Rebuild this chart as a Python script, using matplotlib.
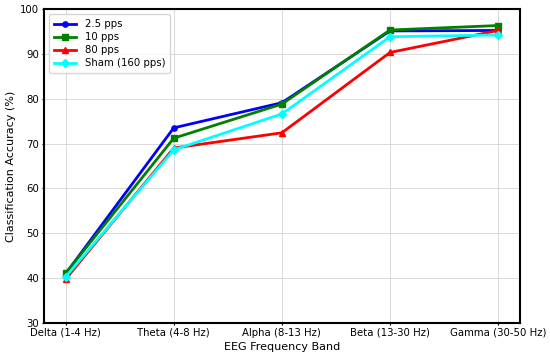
import matplotlib
matplotlib.use("Agg")
import matplotlib.pyplot as plt

bands = ["Delta (1-4 Hz)", "Theta (4-8 Hz)", "Alpha (8-13 Hz)",
         "Beta (13-30 Hz)", "Gamma (30-50 Hz)"]
acc_2_5 = [41.0, 73.5, 79.1, 95.1, 95.2]
acc_10 = [41.1, 71.2, 78.8, 95.3, 96.3]
acc_80 = [39.8, 69.0, 72.4, 90.3, 95.2]
acc_sham = [40.3, 68.6, 76.6, 93.8, 94.2]

series = [
    ("2.5 pps", acc_2_5, "blue", "o"),
    ("10 pps", acc_10, "green", "s"),
    ("80 pps", acc_80, "red", "^"),
    ("Sham (160 pps)", acc_sham, "cyan", "D"),
]

fig, ax = plt.subplots(figsize=(5.5, 3.57), dpi=100)
x = list(range(len(bands)))
for label, vals, color, marker in series:
    ax.plot(x, vals, color=color, marker=marker, markersize=3.8,
            linewidth=2.0, label=label)

ax.set_xticks(x)
ax.set_xticklabels(bands, fontsize=7.3)
ax.set_xlim(-0.2, 4.2)
ax.set_ylim(30, 100)
ax.tick_params(axis="y", labelsize=7.3)
ax.tick_params(length=1.5, pad=2)
ax.set_xlabel("EEG Frequency Band", fontsize=8, labelpad=3)
ax.set_ylabel("Classification Accuracy (%)", fontsize=8, labelpad=3)
ax.grid(True, color="#d0d0d0", linewidth=0.7, alpha=0.8)
for sp in ax.spines.values():
    sp.set_color("black")
    sp.set_linewidth(1.5)
ax.legend(loc="upper left", fontsize=7.3, handlelength=2.2, borderpad=0.5,
          labelspacing=0.3)

plt.subplots_adjust(left=0.08, right=0.945, top=0.975, bottom=0.095)
plt.savefig("out.png", dpi=100)
